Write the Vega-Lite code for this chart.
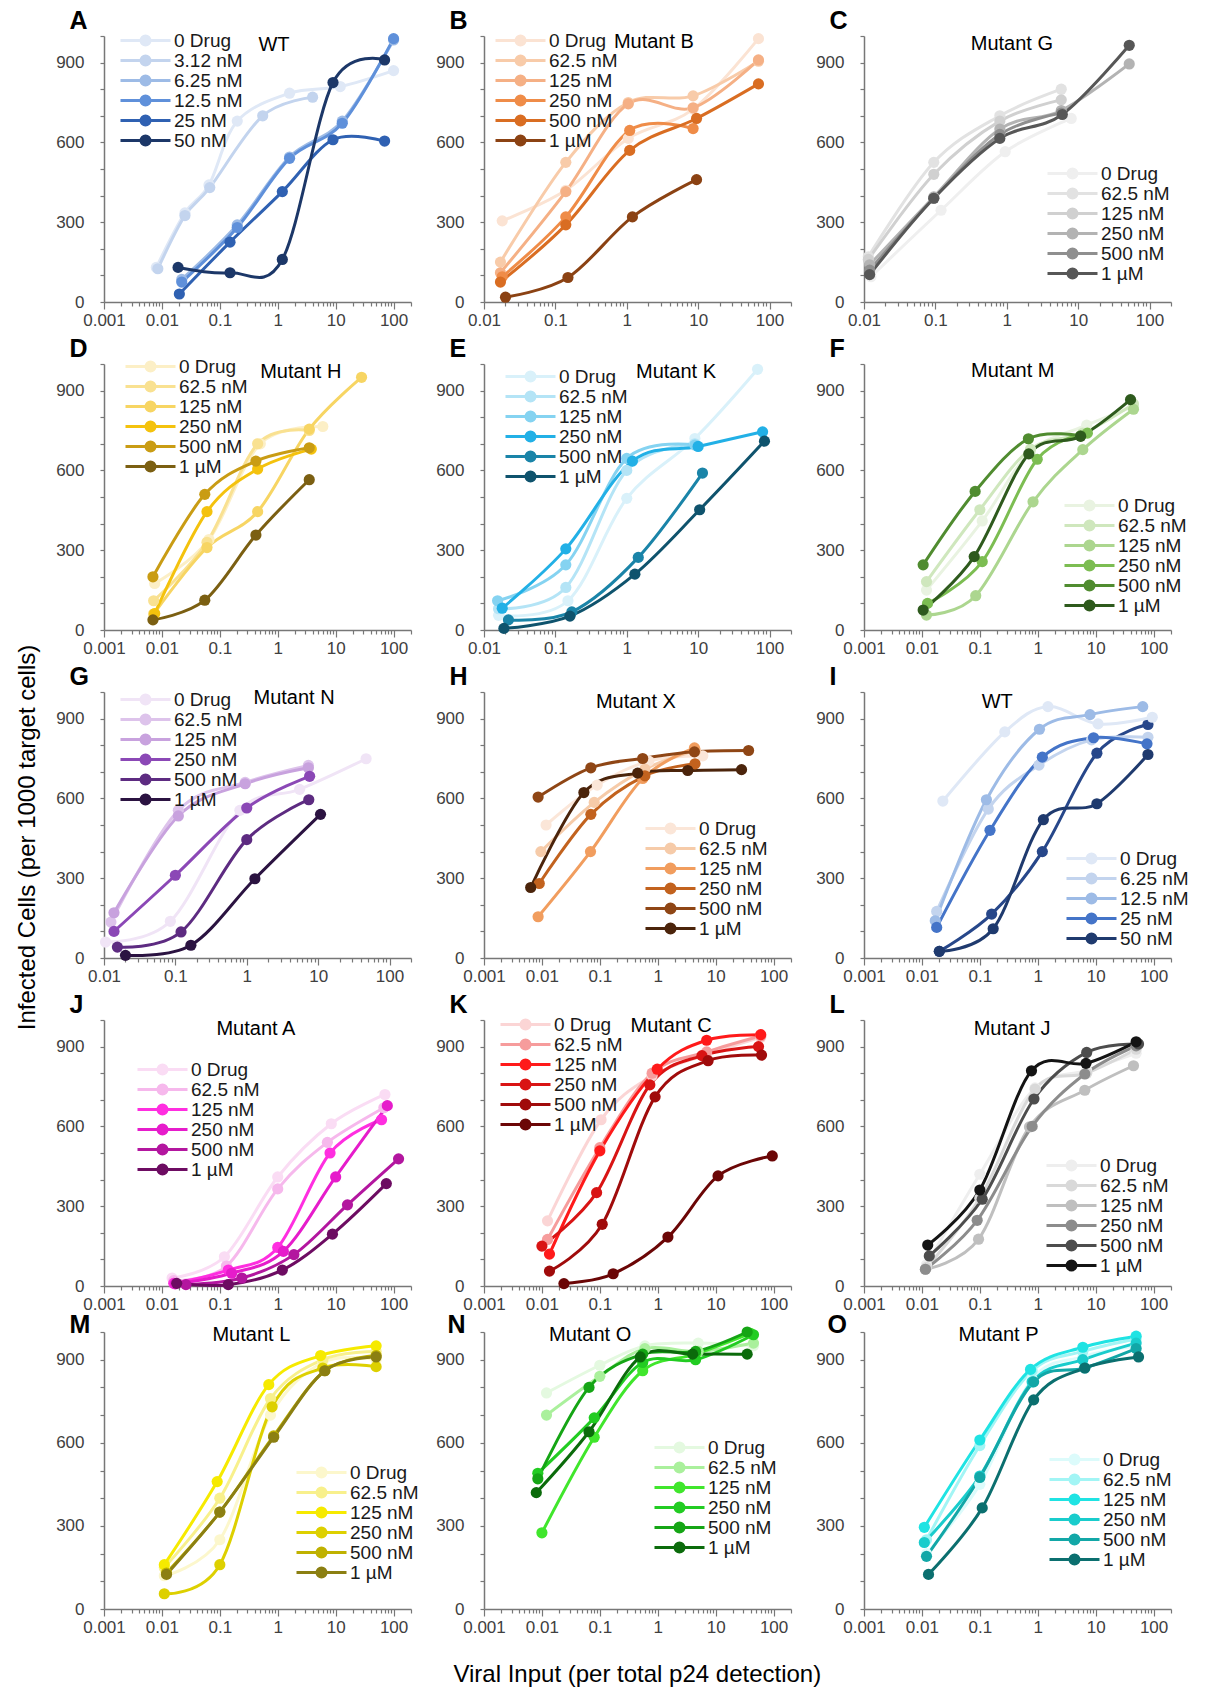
{
"$schema": "https://vega.github.io/schema/vega-lite/v6.json",
"background": "white",
"padding": {"left": 15, "top": 8, "right": 5, "bottom": 5},
"config": {
  "view": {"stroke": null},
  "font": "Liberation Sans",
  "axis": {"grid": false, "domainColor": "#777777", "tickColor": "#777777", "domainWidth": 1.5, "tickWidth": 1.2, "labelColor": "#404040", "labelFont": "Liberation Sans", "labelFontSize": 17, "titleFont": "Liberation Sans", "labelOverlap": false, "labelSeparation": 0},
  "axisX": {"labelPadding": 3},
  "axisY": {"tickSize": 4, "labelPadding": 16, "titleAngle": 0, "titleX": -35, "titleY": -16, "titleAlign": "left", "titleBaseline": "middle", "titleFontSize": 25, "titleFontWeight": "bold", "titleColor": "#000000"},
  "legend": {"labelFontSize": 19, "labelColor": "#1a1a1a", "labelFont": "Liberation Sans", "symbolSize": 100, "symbolStrokeWidth": 3, "labelOffset": 19, "rowPadding": -8, "padding": 0, "symbolOffset": 0},
  "title": {"font": "Liberation Sans", "fontWeight": "normal", "fontSize": 24, "color": "#000000"}
},
"datasets": {
"A": [
{"s":"0 Drug","x":0.008,"y":130},{"s":"0 Drug","x":0.025,"y":335},{"s":"0 Drug","x":0.065,"y":440},{"s":"0 Drug","x":0.2,"y":680},{"s":"0 Drug","x":1.6,"y":785},{"s":"0 Drug","x":12,"y":810},{"s":"0 Drug","x":100,"y":870},
{"s":"3.12 nM","x":0.0085,"y":125},{"s":"3.12 nM","x":0.025,"y":325},{"s":"3.12 nM","x":0.067,"y":430},{"s":"3.12 nM","x":0.55,"y":700},{"s":"3.12 nM","x":4,"y":770},
{"s":"6.25 nM","x":0.022,"y":85},{"s":"6.25 nM","x":0.2,"y":290},{"s":"6.25 nM","x":1.6,"y":545},{"s":"6.25 nM","x":13,"y":680},{"s":"6.25 nM","x":100,"y":985},
{"s":"12.5 nM","x":0.022,"y":75},{"s":"12.5 nM","x":0.2,"y":280},{"s":"12.5 nM","x":1.6,"y":540},{"s":"12.5 nM","x":13,"y":672},{"s":"12.5 nM","x":100,"y":990},
{"s":"25 nM","x":0.02,"y":30},{"s":"25 nM","x":0.15,"y":225},{"s":"25 nM","x":1.2,"y":415},{"s":"25 nM","x":9,"y":610},{"s":"25 nM","x":70,"y":605},
{"s":"50 nM","x":0.019,"y":130},{"s":"50 nM","x":0.15,"y":110},{"s":"50 nM","x":1.2,"y":160},{"s":"50 nM","x":9,"y":825},{"s":"50 nM","x":70,"y":910}
],
"B": [
{"s":"0 Drug","x":0.018,"y":305},{"s":"0 Drug","x":0.14,"y":420},{"s":"0 Drug","x":1.05,"y":615},{"s":"0 Drug","x":8.5,"y":725},{"s":"0 Drug","x":70,"y":990},
{"s":"62.5 nM","x":0.017,"y":150},{"s":"62.5 nM","x":0.14,"y":525},{"s":"62.5 nM","x":1.05,"y":750},{"s":"62.5 nM","x":8.5,"y":775},{"s":"62.5 nM","x":70,"y":905},
{"s":"125 nM","x":0.017,"y":110},{"s":"125 nM","x":0.14,"y":415},{"s":"125 nM","x":1.05,"y":745},{"s":"125 nM","x":8.5,"y":730},{"s":"125 nM","x":70,"y":910},
{"s":"250 nM","x":0.018,"y":95},{"s":"250 nM","x":0.14,"y":320},{"s":"250 nM","x":1.1,"y":645},{"s":"250 nM","x":8.5,"y":652},
{"s":"500 nM","x":0.017,"y":75},{"s":"500 nM","x":0.14,"y":290},{"s":"500 nM","x":1.1,"y":570},{"s":"500 nM","x":9.5,"y":690},{"s":"500 nM","x":70,"y":820},
{"s":"1 µM","x":0.02,"y":18},{"s":"1 µM","x":0.15,"y":92},{"s":"1 µM","x":1.2,"y":320},{"s":"1 µM","x":9.5,"y":460}
],
"C": [
{"s":"0 Drug","x":0.0125,"y":95},{"s":"0 Drug","x":0.12,"y":345},{"s":"0 Drug","x":0.95,"y":565},{"s":"0 Drug","x":8,"y":690},
{"s":"62.5 nM","x":0.0115,"y":170},{"s":"62.5 nM","x":0.095,"y":525},{"s":"62.5 nM","x":0.8,"y":700},{"s":"62.5 nM","x":5.8,"y":800},
{"s":"125 nM","x":0.0115,"y":160},{"s":"125 nM","x":0.095,"y":480},{"s":"125 nM","x":0.8,"y":680},{"s":"125 nM","x":5.8,"y":760},
{"s":"250 nM","x":0.012,"y":140},{"s":"250 nM","x":0.095,"y":395},{"s":"250 nM","x":0.8,"y":650},{"s":"250 nM","x":5.8,"y":720},{"s":"250 nM","x":52,"y":895},
{"s":"500 nM","x":0.012,"y":120},{"s":"500 nM","x":0.095,"y":390},{"s":"500 nM","x":0.8,"y":630},{"s":"500 nM","x":5.8,"y":710},
{"s":"1 µM","x":0.012,"y":103},{"s":"1 µM","x":0.095,"y":390},{"s":"1 µM","x":0.8,"y":615},{"s":"1 µM","x":6,"y":705},{"s":"1 µM","x":52,"y":965}
],
"D": [
{"s":"0 Drug","x":0.0075,"y":175},{"s":"0 Drug","x":0.065,"y":340},{"s":"0 Drug","x":0.5,"y":700},{"s":"0 Drug","x":6,"y":765},
{"s":"62.5 nM","x":0.0072,"y":110},{"s":"62.5 nM","x":0.06,"y":330},{"s":"62.5 nM","x":0.45,"y":700},{"s":"62.5 nM","x":3.5,"y":750},
{"s":"125 nM","x":0.0072,"y":60},{"s":"125 nM","x":0.06,"y":310},{"s":"125 nM","x":0.45,"y":445},{"s":"125 nM","x":3.5,"y":755},{"s":"125 nM","x":28,"y":950},
{"s":"250 nM","x":0.0075,"y":62},{"s":"250 nM","x":0.06,"y":445},{"s":"250 nM","x":0.45,"y":605},{"s":"250 nM","x":3.8,"y":680},
{"s":"500 nM","x":0.007,"y":200},{"s":"500 nM","x":0.055,"y":510},{"s":"500 nM","x":0.42,"y":635},{"s":"500 nM","x":3.5,"y":685},
{"s":"1 µM","x":0.007,"y":38},{"s":"1 µM","x":0.055,"y":112},{"s":"1 µM","x":0.42,"y":357},{"s":"1 µM","x":3.5,"y":565}
],
"E": [
{"s":"0 Drug","x":0.016,"y":55},{"s":"0 Drug","x":0.15,"y":110},{"s":"0 Drug","x":1.0,"y":495},{"s":"0 Drug","x":9,"y":720},{"s":"0 Drug","x":68,"y":980},
{"s":"62.5 nM","x":0.016,"y":80},{"s":"62.5 nM","x":0.14,"y":160},{"s":"62.5 nM","x":1.0,"y":600},{"s":"62.5 nM","x":9,"y":700},
{"s":"125 nM","x":0.0155,"y":110},{"s":"125 nM","x":0.14,"y":245},{"s":"125 nM","x":1.0,"y":645},{"s":"125 nM","x":9,"y":695},
{"s":"250 nM","x":0.018,"y":82},{"s":"250 nM","x":0.14,"y":305},{"s":"250 nM","x":1.2,"y":635},{"s":"250 nM","x":10,"y":690},{"s":"250 nM","x":80,"y":745},
{"s":"500 nM","x":0.022,"y":38},{"s":"500 nM","x":0.17,"y":68},{"s":"500 nM","x":1.45,"y":273},{"s":"500 nM","x":11.5,"y":590},
{"s":"1 µM","x":0.019,"y":6},{"s":"1 µM","x":0.16,"y":52},{"s":"1 µM","x":1.3,"y":210},{"s":"1 µM","x":10.5,"y":452},{"s":"1 µM","x":85,"y":710}
],
"F": [
{"s":"0 Drug","x":0.012,"y":150},{"s":"0 Drug","x":0.11,"y":410},{"s":"0 Drug","x":0.75,"y":670},{"s":"0 Drug","x":7,"y":770},{"s":"0 Drug","x":45,"y":840},
{"s":"62.5 nM","x":0.012,"y":182},{"s":"62.5 nM","x":0.1,"y":452},{"s":"62.5 nM","x":0.75,"y":680},{"s":"62.5 nM","x":6,"y":740},{"s":"62.5 nM","x":45,"y":850},
{"s":"125 nM","x":0.012,"y":56},{"s":"125 nM","x":0.085,"y":129},{"s":"125 nM","x":0.83,"y":482},{"s":"125 nM","x":6,"y":678},{"s":"125 nM","x":45,"y":830},
{"s":"250 nM","x":0.0125,"y":100},{"s":"250 nM","x":0.11,"y":257},{"s":"250 nM","x":0.98,"y":642},{"s":"250 nM","x":7.2,"y":740},
{"s":"500 nM","x":0.0105,"y":245},{"s":"500 nM","x":0.083,"y":521},{"s":"500 nM","x":0.69,"y":719},{"s":"500 nM","x":5.5,"y":730},
{"s":"1 µM","x":0.0105,"y":75},{"s":"1 µM","x":0.08,"y":276},{"s":"1 µM","x":0.7,"y":662},{"s":"1 µM","x":5.5,"y":728},{"s":"1 µM","x":40,"y":866}
],
"G": [
{"s":"0 Drug","x":0.0105,"y":60},{"s":"0 Drug","x":0.085,"y":138},{"s":"0 Drug","x":0.8,"y":555},{"s":"0 Drug","x":5.5,"y":634},{"s":"0 Drug","x":47,"y":749},
{"s":"62.5 nM","x":0.0125,"y":135},{"s":"62.5 nM","x":0.11,"y":555},{"s":"62.5 nM","x":0.95,"y":660},{"s":"62.5 nM","x":7.3,"y":724},
{"s":"125 nM","x":0.0138,"y":170},{"s":"125 nM","x":0.11,"y":534},{"s":"125 nM","x":0.95,"y":655},{"s":"125 nM","x":7.3,"y":715},
{"s":"250 nM","x":0.0138,"y":100},{"s":"250 nM","x":0.1,"y":311},{"s":"250 nM","x":1.0,"y":564},{"s":"250 nM","x":7.6,"y":683},
{"s":"500 nM","x":0.0154,"y":41},{"s":"500 nM","x":0.12,"y":98},{"s":"500 nM","x":1.0,"y":445},{"s":"500 nM","x":7.4,"y":595},
{"s":"1 µM","x":0.02,"y":10},{"s":"1 µM","x":0.165,"y":48},{"s":"1 µM","x":1.3,"y":298},{"s":"1 µM","x":10.8,"y":540}
],
"H": [
{"s":"0 Drug","x":0.0118,"y":500},{"s":"0 Drug","x":0.09,"y":650},{"s":"0 Drug","x":0.7,"y":740},{"s":"0 Drug","x":6,"y":760},
{"s":"62.5 nM","x":0.0096,"y":400},{"s":"62.5 nM","x":0.08,"y":585},{"s":"62.5 nM","x":0.6,"y":710},{"s":"62.5 nM","x":4.5,"y":780},
{"s":"125 nM","x":0.0086,"y":155},{"s":"125 nM","x":0.069,"y":400},{"s":"125 nM","x":0.55,"y":675},{"s":"125 nM","x":4.3,"y":790},
{"s":"250 nM","x":0.009,"y":280},{"s":"250 nM","x":0.07,"y":540},{"s":"250 nM","x":0.6,"y":685},{"s":"250 nM","x":4.4,"y":730},
{"s":"500 nM","x":0.0086,"y":605},{"s":"500 nM","x":0.07,"y":715},{"s":"500 nM","x":0.55,"y":750},{"s":"500 nM","x":4.3,"y":775},{"s":"500 nM","x":37,"y":780},
{"s":"1 µM","x":0.0064,"y":265},{"s":"1 µM","x":0.053,"y":622},{"s":"1 µM","x":0.45,"y":695},{"s":"1 µM","x":3.3,"y":705},{"s":"1 µM","x":28,"y":708}
],
"I": [
{"s":"0 Drug","x":0.023,"y":590},{"s":"0 Drug","x":0.27,"y":850},{"s":"0 Drug","x":1.5,"y":945},{"s":"0 Drug","x":11,"y":880},{"s":"0 Drug","x":95,"y":905},
{"s":"6.25 nM","x":0.018,"y":175},{"s":"6.25 nM","x":0.14,"y":560},{"s":"6.25 nM","x":1.05,"y":725},{"s":"6.25 nM","x":8.5,"y":820},{"s":"6.25 nM","x":80,"y":830},
{"s":"12.5 nM","x":0.017,"y":140},{"s":"12.5 nM","x":0.13,"y":595},{"s":"12.5 nM","x":1.07,"y":860},{"s":"12.5 nM","x":8,"y":915},{"s":"12.5 nM","x":65,"y":945},
{"s":"25 nM","x":0.018,"y":115},{"s":"25 nM","x":0.15,"y":480},{"s":"25 nM","x":1.2,"y":755},{"s":"25 nM","x":9.2,"y":828},{"s":"25 nM","x":77,"y":805},
{"s":"50 nM","x":0.02,"y":25},{"s":"50 nM","x":0.17,"y":110},{"s":"50 nM","x":1.25,"y":520},{"s":"50 nM","x":10.5,"y":580},{"s":"50 nM","x":80,"y":765}
],
"I2": [
{"x":0.02,"y":25},{"x":0.16,"y":165},{"x":1.2,"y":400},{"x":10.5,"y":770},{"x":80,"y":878}
],
"J": [
{"s":"0 Drug","x":0.015,"y":30},{"s":"0 Drug","x":0.12,"y":110},{"s":"0 Drug","x":1.0,"y":410},{"s":"0 Drug","x":8.4,"y":610},{"s":"0 Drug","x":71,"y":720},
{"s":"62.5 nM","x":0.016,"y":20},{"s":"62.5 nM","x":0.13,"y":75},{"s":"62.5 nM","x":1.0,"y":365},{"s":"62.5 nM","x":7.2,"y":540},{"s":"62.5 nM","x":68,"y":670},
{"s":"125 nM","x":0.016,"y":10},{"s":"125 nM","x":0.14,"y":60},{"s":"125 nM","x":1.0,"y":145},{"s":"125 nM","x":8,"y":500},{"s":"125 nM","x":62,"y":625},
{"s":"250 nM","x":0.017,"y":8},{"s":"250 nM","x":0.16,"y":48},{"s":"250 nM","x":1.25,"y":130},{"s":"250 nM","x":10,"y":410},{"s":"250 nM","x":78,"y":678},
{"s":"500 nM","x":0.026,"y":5},{"s":"500 nM","x":0.24,"y":30},{"s":"500 nM","x":1.9,"y":118},{"s":"500 nM","x":16,"y":305},{"s":"500 nM","x":122,"y":478},
{"s":"1 µM","x":0.018,"y":10},{"s":"1 µM","x":0.14,"y":5},{"s":"1 µM","x":1.2,"y":60},{"s":"1 µM","x":8.8,"y":195},{"s":"1 µM","x":75,"y":385}
],
"K": [
{"s":"0 Drug","x":0.0125,"y":245},{"s":"0 Drug","x":0.105,"y":625},{"s":"0 Drug","x":0.8,"y":790},{"s":"0 Drug","x":7,"y":870},{"s":"0 Drug","x":60,"y":935},
{"s":"62.5 nM","x":0.0125,"y":175},{"s":"62.5 nM","x":0.1,"y":520},{"s":"62.5 nM","x":0.8,"y":800},{"s":"62.5 nM","x":7,"y":880},{"s":"62.5 nM","x":60,"y":940},
{"s":"125 nM","x":0.0135,"y":120},{"s":"125 nM","x":0.1,"y":508},{"s":"125 nM","x":0.98,"y":815},{"s":"125 nM","x":7,"y":924},{"s":"125 nM","x":60,"y":945},
{"s":"250 nM","x":0.01,"y":150},{"s":"250 nM","x":0.088,"y":351},{"s":"250 nM","x":0.73,"y":756},{"s":"250 nM","x":5.8,"y":866},{"s":"250 nM","x":55,"y":900},
{"s":"500 nM","x":0.0135,"y":56},{"s":"500 nM","x":0.11,"y":232},{"s":"500 nM","x":0.9,"y":711},{"s":"500 nM","x":7.4,"y":847},{"s":"500 nM","x":62,"y":868},
{"s":"1 µM","x":0.024,"y":9},{"s":"1 µM","x":0.17,"y":46},{"s":"1 µM","x":1.5,"y":184},{"s":"1 µM","x":11,"y":414},{"s":"1 µM","x":95,"y":489}
],
"L": [
{"s":"0 Drug","x":0.012,"y":80},{"s":"0 Drug","x":0.1,"y":420},{"s":"0 Drug","x":0.9,"y":745},{"s":"0 Drug","x":7,"y":810},{"s":"0 Drug","x":50,"y":875},
{"s":"62.5 nM","x":0.012,"y":70},{"s":"62.5 nM","x":0.1,"y":330},{"s":"62.5 nM","x":0.9,"y":740},{"s":"62.5 nM","x":7,"y":800},{"s":"62.5 nM","x":50,"y":890},
{"s":"125 nM","x":0.0115,"y":63},{"s":"125 nM","x":0.095,"y":176},{"s":"125 nM","x":0.72,"y":598},{"s":"125 nM","x":6.5,"y":736},{"s":"125 nM","x":45,"y":828},
{"s":"250 nM","x":0.0115,"y":63},{"s":"250 nM","x":0.09,"y":247},{"s":"250 nM","x":0.8,"y":600},{"s":"250 nM","x":6.5,"y":797},{"s":"250 nM","x":50,"y":903},
{"s":"500 nM","x":0.0134,"y":113},{"s":"500 nM","x":0.11,"y":326},{"s":"500 nM","x":0.86,"y":703},{"s":"500 nM","x":7,"y":878},{"s":"500 nM","x":55,"y":910},
{"s":"1 µM","x":0.0126,"y":154},{"s":"1 µM","x":0.1,"y":361},{"s":"1 µM","x":0.78,"y":809},{"s":"1 µM","x":6.8,"y":837},{"s":"1 µM","x":50,"y":918}
],
"M": [
{"s":"0 Drug","x":0.011,"y":120},{"s":"0 Drug","x":0.1,"y":250},{"s":"0 Drug","x":0.75,"y":700},{"s":"0 Drug","x":6,"y":890},{"s":"0 Drug","x":50,"y":900},
{"s":"62.5 nM","x":0.011,"y":150},{"s":"62.5 nM","x":0.1,"y":400},{"s":"62.5 nM","x":0.75,"y":760},{"s":"62.5 nM","x":6,"y":900},{"s":"62.5 nM","x":50,"y":930},
{"s":"125 nM","x":0.011,"y":160},{"s":"125 nM","x":0.09,"y":460},{"s":"125 nM","x":0.7,"y":810},{"s":"125 nM","x":5.5,"y":915},{"s":"125 nM","x":50,"y":950},
{"s":"250 nM","x":0.011,"y":55},{"s":"250 nM","x":0.1,"y":160},{"s":"250 nM","x":0.8,"y":730},{"s":"250 nM","x":6,"y":870},{"s":"250 nM","x":50,"y":875},
{"s":"500 nM","x":0.012,"y":130},{"s":"500 nM","x":0.1,"y":350},{"s":"500 nM","x":0.85,"y":625},{"s":"500 nM","x":6.5,"y":860},{"s":"500 nM","x":50,"y":915},
{"s":"1 µM","x":0.012,"y":125},{"s":"1 µM","x":0.1,"y":350},{"s":"1 µM","x":0.85,"y":620},{"s":"1 µM","x":6.5,"y":860},{"s":"1 µM","x":50,"y":910}
],
"N": [
{"s":"0 Drug","x":0.012,"y":780},{"s":"0 Drug","x":0.1,"y":880},{"s":"0 Drug","x":0.6,"y":950},{"s":"0 Drug","x":5,"y":960},{"s":"0 Drug","x":45,"y":950},
{"s":"62.5 nM","x":0.012,"y":700},{"s":"62.5 nM","x":0.1,"y":840},{"s":"62.5 nM","x":0.6,"y":940},{"s":"62.5 nM","x":5,"y":930},{"s":"62.5 nM","x":45,"y":960},
{"s":"125 nM","x":0.01,"y":275},{"s":"125 nM","x":0.08,"y":620},{"s":"125 nM","x":0.55,"y":860},{"s":"125 nM","x":4.5,"y":920},{"s":"125 nM","x":40,"y":995},
{"s":"250 nM","x":0.0085,"y":490},{"s":"250 nM","x":0.08,"y":690},{"s":"250 nM","x":0.55,"y":890},{"s":"250 nM","x":4.5,"y":900},{"s":"250 nM","x":45,"y":990},
{"s":"500 nM","x":0.0085,"y":470},{"s":"500 nM","x":0.065,"y":800},{"s":"500 nM","x":0.55,"y":920},{"s":"500 nM","x":4.5,"y":930},{"s":"500 nM","x":35,"y":1000},
{"s":"1 µM","x":0.008,"y":420},{"s":"1 µM","x":0.065,"y":640},{"s":"1 µM","x":0.5,"y":910},{"s":"1 µM","x":4,"y":920},{"s":"1 µM","x":35,"y":920}
],
"O": [
{"s":"0 Drug","x":0.012,"y":200},{"s":"0 Drug","x":0.1,"y":450},{"s":"0 Drug","x":0.8,"y":830},{"s":"0 Drug","x":6,"y":910},{"s":"0 Drug","x":50,"y":950},
{"s":"62.5 nM","x":0.012,"y":250},{"s":"62.5 nM","x":0.1,"y":590},{"s":"62.5 nM","x":0.8,"y":860},{"s":"62.5 nM","x":6,"y":930},{"s":"62.5 nM","x":50,"y":975},
{"s":"125 nM","x":0.011,"y":295},{"s":"125 nM","x":0.1,"y":610},{"s":"125 nM","x":0.75,"y":865},{"s":"125 nM","x":6,"y":945},{"s":"125 nM","x":50,"y":985},
{"s":"250 nM","x":0.011,"y":240},{"s":"250 nM","x":0.1,"y":480},{"s":"250 nM","x":0.8,"y":820},{"s":"250 nM","x":6,"y":900},{"s":"250 nM","x":50,"y":960},
{"s":"500 nM","x":0.012,"y":190},{"s":"500 nM","x":0.1,"y":475},{"s":"500 nM","x":0.85,"y":820},{"s":"500 nM","x":6.5,"y":870},{"s":"500 nM","x":50,"y":940},
{"s":"1 µM","x":0.013,"y":125},{"s":"1 µM","x":0.11,"y":365},{"s":"1 µM","x":0.85,"y":755},{"s":"1 µM","x":6.5,"y":870},{"s":"1 µM","x":55,"y":910}
]
},
"title": {"text": "Viral Input (per total p24 detection)", "orient": "bottom", "anchor": "middle", "offset": 28, "dx": 35},
"vconcat": [
{
"title": {"text": "Infected Cells (per 1000 target cells)", "orient": "left", "anchor": "middle", "offset": 16, "dx": -16},
"spacing": 0,
"resolve": {"scale": {"x": "independent", "y": "independent", "color": "independent"}},
"vconcat": [
{
"columns": 3,
"align": "each",
"spacing": {"row": 8, "column": 23},
"resolve": {"scale": {"x": "independent", "y": "independent", "color": "independent"}},
"concat": [
{"width": 307, "height": 266, "data": {"name": "A"}, "layer": [
 {"mark": {"type": "line", "interpolate": "cardinal", "strokeWidth": 3},
  "encoding": {
   "x": {"field": "x", "type": "quantitative", "scale": {"type": "log", "domain": [0.001, 200], "nice": false}, "axis": {"title": null, "tickCount": 100, "values": [0.001,0.002,0.003,0.004,0.005,0.006,0.007,0.008,0.009,0.01,0.02,0.03,0.04,0.05,0.06,0.07,0.08,0.09,0.1,0.2,0.3,0.4,0.5,0.6,0.7,0.8,0.9,1,2,3,4,5,6,7,8,9,10,20,30,40,50,60,70,80,90,100,200], "format": "~g", "labelOverlap": false, "labelFlush": false, "labelExpr": "abs(log(datum.value)/LN10 - round(log(datum.value)/LN10)) < 0.01 ? datum.label : ''", "tickSize": {"condition": {"test": "abs(log(datum.value)/LN10 - round(log(datum.value)/LN10)) < 0.01", "value": 7}, "value": 4}}},
   "y": {"field": "y", "type": "quantitative", "scale": {"domain": [0, 1000], "nice": false}, "axis": {"title": "A", "tickCount": 100, "values": [0,100,200,300,400,500,600,700,800,900,1000], "labelExpr": "(datum.value == 0 || datum.value == 300 || datum.value == 600 || datum.value == 900) ? datum.label : ''", "labelOverlap": false}},
   "color": {"field": "s", "type": "nominal", "scale": {"domain": ["0 Drug","3.12 nM","6.25 nM","12.5 nM","25 nM","50 nM"], "range": ["#dfe8f6","#c3d4ee","#9dbbe6","#5f90da","#2f61b2","#1c3768"]}, "legend": {"orient": "none", "legendX": 32, "legendY": -5, "title": null, "symbolType": "M-5,0L5,0M-0.9,0A0.9,0.9,0,1,0,0.9,0A0.9,0.9,0,1,0,-0.9,0M-0.3,0A0.3,0.3,0,1,0,0.3,0A0.3,0.3,0,1,0,-0.3,0"}}
  }},
 {"mark": {"type": "point", "filled": true, "size": 125, "opacity": 1},
  "encoding": {"x": {"field": "x", "type": "quantitative"}, "y": {"field": "y", "type": "quantitative"}, "color": {"field": "s", "type": "nominal", "scale": {"domain": ["0 Drug","3.12 nM","6.25 nM","12.5 nM","25 nM","50 nM"], "range": ["#dfe8f6","#c3d4ee","#9dbbe6","#5f90da","#2f61b2","#1c3768"]}, "legend": null}}},
 {"data": {"values": [{"t": "WT"}]}, "mark": {"type": "text", "fontSize": 20, "color": "#000000"}, "encoding": {"x": {"datum": 0.86}, "y": {"datum": 965}, "text": {"field": "t"}}}
]},
{"width": 307, "height": 266, "data": {"name": "B"}, "layer": [
 {"mark": {"type": "line", "interpolate": "cardinal", "strokeWidth": 3},
  "encoding": {
   "x": {"field": "x", "type": "quantitative", "scale": {"type": "log", "domain": [0.01, 200], "nice": false}, "axis": {"title": null, "tickCount": 100, "values": [0.01,0.02,0.03,0.04,0.05,0.06,0.07,0.08,0.09,0.1,0.2,0.3,0.4,0.5,0.6,0.7,0.8,0.9,1,2,3,4,5,6,7,8,9,10,20,30,40,50,60,70,80,90,100,200], "format": "~g", "labelOverlap": false, "labelFlush": false, "labelExpr": "abs(log(datum.value)/LN10 - round(log(datum.value)/LN10)) < 0.01 ? datum.label : ''", "tickSize": {"condition": {"test": "abs(log(datum.value)/LN10 - round(log(datum.value)/LN10)) < 0.01", "value": 7}, "value": 4}}},
   "y": {"field": "y", "type": "quantitative", "scale": {"domain": [0, 1000], "nice": false}, "axis": {"title": "B", "tickCount": 100, "values": [0,100,200,300,400,500,600,700,800,900,1000], "labelExpr": "(datum.value == 0 || datum.value == 300 || datum.value == 600 || datum.value == 900) ? datum.label : ''", "labelOverlap": false}},
   "color": {"field": "s", "type": "nominal", "scale": {"domain": ["0 Drug","62.5 nM","125 nM","250 nM","500 nM","1 µM"], "range": ["#fbe3d3","#f8cba9","#f5b085","#ef8c48","#d96d22","#8b4213"]}, "legend": {"orient": "none", "legendX": 27, "legendY": -5, "title": null, "symbolType": "M-5,0L5,0M-0.9,0A0.9,0.9,0,1,0,0.9,0A0.9,0.9,0,1,0,-0.9,0M-0.3,0A0.3,0.3,0,1,0,0.3,0A0.3,0.3,0,1,0,-0.3,0"}}
  }},
 {"mark": {"type": "point", "filled": true, "size": 125, "opacity": 1},
  "encoding": {"x": {"field": "x", "type": "quantitative"}, "y": {"field": "y", "type": "quantitative"}, "color": {"field": "s", "type": "nominal", "scale": {"domain": ["0 Drug","62.5 nM","125 nM","250 nM","500 nM","1 µM"], "range": ["#fbe3d3","#f8cba9","#f5b085","#ef8c48","#d96d22","#8b4213"]}, "legend": null}}},
 {"data": {"values": [{"t": "Mutant B"}]}, "mark": {"type": "text", "fontSize": 20, "color": "#000000"}, "encoding": {"x": {"datum": 2.4}, "y": {"datum": 977}, "text": {"field": "t"}}}
]},
{"width": 307, "height": 266, "data": {"name": "C"}, "layer": [
 {"mark": {"type": "line", "interpolate": "cardinal", "strokeWidth": 3},
  "encoding": {
   "x": {"field": "x", "type": "quantitative", "scale": {"type": "log", "domain": [0.01, 200], "nice": false}, "axis": {"title": null, "tickCount": 100, "values": [0.01,0.02,0.03,0.04,0.05,0.06,0.07,0.08,0.09,0.1,0.2,0.3,0.4,0.5,0.6,0.7,0.8,0.9,1,2,3,4,5,6,7,8,9,10,20,30,40,50,60,70,80,90,100,200], "format": "~g", "labelOverlap": false, "labelFlush": false, "labelExpr": "abs(log(datum.value)/LN10 - round(log(datum.value)/LN10)) < 0.01 ? datum.label : ''", "tickSize": {"condition": {"test": "abs(log(datum.value)/LN10 - round(log(datum.value)/LN10)) < 0.01", "value": 7}, "value": 4}}},
   "y": {"field": "y", "type": "quantitative", "scale": {"domain": [0, 1000], "nice": false}, "axis": {"title": "C", "tickCount": 100, "values": [0,100,200,300,400,500,600,700,800,900,1000], "labelExpr": "(datum.value == 0 || datum.value == 300 || datum.value == 600 || datum.value == 900) ? datum.label : ''", "labelOverlap": false}},
   "color": {"field": "s", "type": "nominal", "scale": {"domain": ["0 Drug","62.5 nM","125 nM","250 nM","500 nM","1 µM"], "range": ["#efefef","#e2e2e2","#d0d0d0","#b3b3b3","#8f8f8f","#575757"]}, "legend": {"orient": "none", "legendX": 199, "legendY": 128, "title": null, "symbolType": "M-5,0L5,0M-0.9,0A0.9,0.9,0,1,0,0.9,0A0.9,0.9,0,1,0,-0.9,0M-0.3,0A0.3,0.3,0,1,0,0.3,0A0.3,0.3,0,1,0,-0.3,0"}}
  }},
 {"mark": {"type": "point", "filled": true, "size": 125, "opacity": 1},
  "encoding": {"x": {"field": "x", "type": "quantitative"}, "y": {"field": "y", "type": "quantitative"}, "color": {"field": "s", "type": "nominal", "scale": {"domain": ["0 Drug","62.5 nM","125 nM","250 nM","500 nM","1 µM"], "range": ["#efefef","#e2e2e2","#d0d0d0","#b3b3b3","#8f8f8f","#575757"]}, "legend": null}}},
 {"data": {"values": [{"t": "Mutant G"}]}, "mark": {"type": "text", "fontSize": 20, "color": "#000000"}, "encoding": {"x": {"datum": 1.18}, "y": {"datum": 970}, "text": {"field": "t"}}}
]},
{"width": 307, "height": 266, "data": {"name": "D"}, "layer": [
 {"mark": {"type": "line", "interpolate": "cardinal", "strokeWidth": 3},
  "encoding": {
   "x": {"field": "x", "type": "quantitative", "scale": {"type": "log", "domain": [0.001, 200], "nice": false}, "axis": {"title": null, "tickCount": 100, "values": [0.001,0.002,0.003,0.004,0.005,0.006,0.007,0.008,0.009,0.01,0.02,0.03,0.04,0.05,0.06,0.07,0.08,0.09,0.1,0.2,0.3,0.4,0.5,0.6,0.7,0.8,0.9,1,2,3,4,5,6,7,8,9,10,20,30,40,50,60,70,80,90,100,200], "format": "~g", "labelOverlap": false, "labelFlush": false, "labelExpr": "abs(log(datum.value)/LN10 - round(log(datum.value)/LN10)) < 0.01 ? datum.label : ''", "tickSize": {"condition": {"test": "abs(log(datum.value)/LN10 - round(log(datum.value)/LN10)) < 0.01", "value": 7}, "value": 4}}},
   "y": {"field": "y", "type": "quantitative", "scale": {"domain": [0, 1000], "nice": false}, "axis": {"title": "D", "tickCount": 100, "values": [0,100,200,300,400,500,600,700,800,900,1000], "labelExpr": "(datum.value == 0 || datum.value == 300 || datum.value == 600 || datum.value == 900) ? datum.label : ''", "labelOverlap": false}},
   "color": {"field": "s", "type": "nominal", "scale": {"domain": ["0 Drug","62.5 nM","125 nM","250 nM","500 nM","1 µM"], "range": ["#fcefc6","#f9e191","#f7d563","#f4c20d","#c99c14","#7b5f12"]}, "legend": {"orient": "none", "legendX": 37, "legendY": -7, "title": null, "symbolType": "M-5,0L5,0M-0.9,0A0.9,0.9,0,1,0,0.9,0A0.9,0.9,0,1,0,-0.9,0M-0.3,0A0.3,0.3,0,1,0,0.3,0A0.3,0.3,0,1,0,-0.3,0"}}
  }},
 {"mark": {"type": "point", "filled": true, "size": 125, "opacity": 1},
  "encoding": {"x": {"field": "x", "type": "quantitative"}, "y": {"field": "y", "type": "quantitative"}, "color": {"field": "s", "type": "nominal", "scale": {"domain": ["0 Drug","62.5 nM","125 nM","250 nM","500 nM","1 µM"], "range": ["#fcefc6","#f9e191","#f7d563","#f4c20d","#c99c14","#7b5f12"]}, "legend": null}}},
 {"data": {"values": [{"t": "Mutant H"}]}, "mark": {"type": "text", "fontSize": 20, "color": "#000000"}, "encoding": {"x": {"datum": 2.5}, "y": {"datum": 970}, "text": {"field": "t"}}}
]},
{"width": 307, "height": 266, "data": {"name": "E"}, "layer": [
 {"mark": {"type": "line", "interpolate": "cardinal", "strokeWidth": 3},
  "encoding": {
   "x": {"field": "x", "type": "quantitative", "scale": {"type": "log", "domain": [0.01, 200], "nice": false}, "axis": {"title": null, "tickCount": 100, "values": [0.01,0.02,0.03,0.04,0.05,0.06,0.07,0.08,0.09,0.1,0.2,0.3,0.4,0.5,0.6,0.7,0.8,0.9,1,2,3,4,5,6,7,8,9,10,20,30,40,50,60,70,80,90,100,200], "format": "~g", "labelOverlap": false, "labelFlush": false, "labelExpr": "abs(log(datum.value)/LN10 - round(log(datum.value)/LN10)) < 0.01 ? datum.label : ''", "tickSize": {"condition": {"test": "abs(log(datum.value)/LN10 - round(log(datum.value)/LN10)) < 0.01", "value": 7}, "value": 4}}},
   "y": {"field": "y", "type": "quantitative", "scale": {"domain": [0, 1000], "nice": false}, "axis": {"title": "E", "tickCount": 100, "values": [0,100,200,300,400,500,600,700,800,900,1000], "labelExpr": "(datum.value == 0 || datum.value == 300 || datum.value == 600 || datum.value == 900) ? datum.label : ''", "labelOverlap": false}},
   "color": {"field": "s", "type": "nominal", "scale": {"domain": ["0 Drug","62.5 nM","125 nM","250 nM","500 nM","1 µM"], "range": ["#d9f1fa","#b4e4f6","#85d3f1","#22b0e6","#1a84a8","#0f536d"]}, "legend": {"orient": "none", "legendX": 37, "legendY": 3, "title": null, "symbolType": "M-5,0L5,0M-0.9,0A0.9,0.9,0,1,0,0.9,0A0.9,0.9,0,1,0,-0.9,0M-0.3,0A0.3,0.3,0,1,0,0.3,0A0.3,0.3,0,1,0,-0.3,0"}}
  }},
 {"mark": {"type": "point", "filled": true, "size": 125, "opacity": 1},
  "encoding": {"x": {"field": "x", "type": "quantitative"}, "y": {"field": "y", "type": "quantitative"}, "color": {"field": "s", "type": "nominal", "scale": {"domain": ["0 Drug","62.5 nM","125 nM","250 nM","500 nM","1 µM"], "range": ["#d9f1fa","#b4e4f6","#85d3f1","#22b0e6","#1a84a8","#0f536d"]}, "legend": null}}},
 {"data": {"values": [{"t": "Mutant K"}]}, "mark": {"type": "text", "fontSize": 20, "color": "#000000"}, "encoding": {"x": {"datum": 4.9}, "y": {"datum": 970}, "text": {"field": "t"}}}
]},
{"width": 307, "height": 266, "data": {"name": "F"}, "layer": [
 {"mark": {"type": "line", "interpolate": "cardinal", "strokeWidth": 3},
  "encoding": {
   "x": {"field": "x", "type": "quantitative", "scale": {"type": "log", "domain": [0.001, 200], "nice": false}, "axis": {"title": null, "tickCount": 100, "values": [0.001,0.002,0.003,0.004,0.005,0.006,0.007,0.008,0.009,0.01,0.02,0.03,0.04,0.05,0.06,0.07,0.08,0.09,0.1,0.2,0.3,0.4,0.5,0.6,0.7,0.8,0.9,1,2,3,4,5,6,7,8,9,10,20,30,40,50,60,70,80,90,100,200], "format": "~g", "labelOverlap": false, "labelFlush": false, "labelExpr": "abs(log(datum.value)/LN10 - round(log(datum.value)/LN10)) < 0.01 ? datum.label : ''", "tickSize": {"condition": {"test": "abs(log(datum.value)/LN10 - round(log(datum.value)/LN10)) < 0.01", "value": 7}, "value": 4}}},
   "y": {"field": "y", "type": "quantitative", "scale": {"domain": [0, 1000], "nice": false}, "axis": {"title": "F", "tickCount": 100, "values": [0,100,200,300,400,500,600,700,800,900,1000], "labelExpr": "(datum.value == 0 || datum.value == 300 || datum.value == 600 || datum.value == 900) ? datum.label : ''", "labelOverlap": false}},
   "color": {"field": "s", "type": "nominal", "scale": {"domain": ["0 Drug","62.5 nM","125 nM","250 nM","500 nM","1 µM"], "range": ["#e9f3e1","#cfe7bd","#acd68f","#7cbd52","#508c30","#2e5a1d"]}, "legend": {"orient": "none", "legendX": 216, "legendY": 132, "title": null, "symbolType": "M-5,0L5,0M-0.9,0A0.9,0.9,0,1,0,0.9,0A0.9,0.9,0,1,0,-0.9,0M-0.3,0A0.3,0.3,0,1,0,0.3,0A0.3,0.3,0,1,0,-0.3,0"}}
  }},
 {"mark": {"type": "point", "filled": true, "size": 125, "opacity": 1},
  "encoding": {"x": {"field": "x", "type": "quantitative"}, "y": {"field": "y", "type": "quantitative"}, "color": {"field": "s", "type": "nominal", "scale": {"domain": ["0 Drug","62.5 nM","125 nM","250 nM","500 nM","1 µM"], "range": ["#e9f3e1","#cfe7bd","#acd68f","#7cbd52","#508c30","#2e5a1d"]}, "legend": null}}},
 {"data": {"values": [{"t": "Mutant M"}]}, "mark": {"type": "text", "fontSize": 20, "color": "#000000"}, "encoding": {"x": {"datum": 0.37}, "y": {"datum": 975}, "text": {"field": "t"}}}
]},
{"width": 307, "height": 266, "data": {"name": "G"}, "layer": [
 {"mark": {"type": "line", "interpolate": "cardinal", "strokeWidth": 3},
  "encoding": {
   "x": {"field": "x", "type": "quantitative", "scale": {"type": "log", "domain": [0.01, 200], "nice": false}, "axis": {"title": null, "tickCount": 100, "values": [0.01,0.02,0.03,0.04,0.05,0.06,0.07,0.08,0.09,0.1,0.2,0.3,0.4,0.5,0.6,0.7,0.8,0.9,1,2,3,4,5,6,7,8,9,10,20,30,40,50,60,70,80,90,100,200], "format": "~g", "labelOverlap": false, "labelFlush": false, "labelExpr": "abs(log(datum.value)/LN10 - round(log(datum.value)/LN10)) < 0.01 ? datum.label : ''", "tickSize": {"condition": {"test": "abs(log(datum.value)/LN10 - round(log(datum.value)/LN10)) < 0.01", "value": 7}, "value": 4}}},
   "y": {"field": "y", "type": "quantitative", "scale": {"domain": [0, 1000], "nice": false}, "axis": {"title": "G", "tickCount": 100, "values": [0,100,200,300,400,500,600,700,800,900,1000], "labelExpr": "(datum.value == 0 || datum.value == 300 || datum.value == 600 || datum.value == 900) ? datum.label : ''", "labelOverlap": false}},
   "color": {"field": "s", "type": "nominal", "scale": {"domain": ["0 Drug","62.5 nM","125 nM","250 nM","500 nM","1 µM"], "range": ["#f0e4f6","#ddc3eb","#c8a2de","#8b48b6","#5d2b81","#2b1341"]}, "legend": {"orient": "none", "legendX": 32, "legendY": -2, "title": null, "symbolType": "M-5,0L5,0M-0.9,0A0.9,0.9,0,1,0,0.9,0A0.9,0.9,0,1,0,-0.9,0M-0.3,0A0.3,0.3,0,1,0,0.3,0A0.3,0.3,0,1,0,-0.3,0"}}
  }},
 {"mark": {"type": "point", "filled": true, "size": 125, "opacity": 1},
  "encoding": {"x": {"field": "x", "type": "quantitative"}, "y": {"field": "y", "type": "quantitative"}, "color": {"field": "s", "type": "nominal", "scale": {"domain": ["0 Drug","62.5 nM","125 nM","250 nM","500 nM","1 µM"], "range": ["#f0e4f6","#ddc3eb","#c8a2de","#8b48b6","#5d2b81","#2b1341"]}, "legend": null}}},
 {"data": {"values": [{"t": "Mutant N"}]}, "mark": {"type": "text", "fontSize": 20, "color": "#000000"}, "encoding": {"x": {"datum": 4.6}, "y": {"datum": 978}, "text": {"field": "t"}}}
]},
{"width": 307, "height": 266, "data": {"name": "H"}, "layer": [
 {"mark": {"type": "line", "interpolate": "cardinal", "strokeWidth": 3},
  "encoding": {
   "x": {"field": "x", "type": "quantitative", "scale": {"type": "log", "domain": [0.001, 200], "nice": false}, "axis": {"title": null, "tickCount": 100, "values": [0.001,0.002,0.003,0.004,0.005,0.006,0.007,0.008,0.009,0.01,0.02,0.03,0.04,0.05,0.06,0.07,0.08,0.09,0.1,0.2,0.3,0.4,0.5,0.6,0.7,0.8,0.9,1,2,3,4,5,6,7,8,9,10,20,30,40,50,60,70,80,90,100,200], "format": "~g", "labelOverlap": false, "labelFlush": false, "labelExpr": "abs(log(datum.value)/LN10 - round(log(datum.value)/LN10)) < 0.01 ? datum.label : ''", "tickSize": {"condition": {"test": "abs(log(datum.value)/LN10 - round(log(datum.value)/LN10)) < 0.01", "value": 7}, "value": 4}}},
   "y": {"field": "y", "type": "quantitative", "scale": {"domain": [0, 1000], "nice": false}, "axis": {"title": "H", "tickCount": 100, "values": [0,100,200,300,400,500,600,700,800,900,1000], "labelExpr": "(datum.value == 0 || datum.value == 300 || datum.value == 600 || datum.value == 900) ? datum.label : ''", "labelOverlap": false}},
   "color": {"field": "s", "type": "nominal", "scale": {"domain": ["0 Drug","62.5 nM","125 nM","250 nM","500 nM","1 µM"], "range": ["#fbe6d8","#f6cba9","#f19d5e","#c2621e","#8f4615","#4b240b"]}, "legend": {"orient": "none", "legendX": 177, "legendY": 127, "title": null, "symbolType": "M-5,0L5,0M-0.9,0A0.9,0.9,0,1,0,0.9,0A0.9,0.9,0,1,0,-0.9,0M-0.3,0A0.3,0.3,0,1,0,0.3,0A0.3,0.3,0,1,0,-0.3,0"}}
  }},
 {"mark": {"type": "point", "filled": true, "size": 125, "opacity": 1},
  "encoding": {"x": {"field": "x", "type": "quantitative"}, "y": {"field": "y", "type": "quantitative"}, "color": {"field": "s", "type": "nominal", "scale": {"domain": ["0 Drug","62.5 nM","125 nM","250 nM","500 nM","1 µM"], "range": ["#fbe6d8","#f6cba9","#f19d5e","#c2621e","#8f4615","#4b240b"]}, "legend": null}}},
 {"data": {"values": [{"t": "Mutant X"}]}, "mark": {"type": "text", "fontSize": 20, "color": "#000000"}, "encoding": {"x": {"datum": 0.42}, "y": {"datum": 962}, "text": {"field": "t"}}}
]},
{"width": 307, "height": 266, "layer": [
 {"data": {"name": "I2"}, "mark": {"type": "line", "interpolate": "cardinal", "strokeWidth": 3, "color": "#27478a"},
  "encoding": {"x": {"field": "x", "type": "quantitative"}, "y": {"field": "y", "type": "quantitative"}}},
 {"data": {"name": "I2"}, "mark": {"type": "point", "filled": true, "size": 125, "opacity": 1, "color": "#27478a"},
  "encoding": {"x": {"field": "x", "type": "quantitative"}, "y": {"field": "y", "type": "quantitative"}}},
 {"data": {"name": "I"}, "mark": {"type": "line", "interpolate": "cardinal", "strokeWidth": 3},
  "encoding": {
   "x": {"field": "x", "type": "quantitative", "scale": {"type": "log", "domain": [0.001, 200], "nice": false}, "axis": {"title": null, "tickCount": 100, "values": [0.001,0.002,0.003,0.004,0.005,0.006,0.007,0.008,0.009,0.01,0.02,0.03,0.04,0.05,0.06,0.07,0.08,0.09,0.1,0.2,0.3,0.4,0.5,0.6,0.7,0.8,0.9,1,2,3,4,5,6,7,8,9,10,20,30,40,50,60,70,80,90,100,200], "format": "~g", "labelOverlap": false, "labelFlush": false, "labelExpr": "abs(log(datum.value)/LN10 - round(log(datum.value)/LN10)) < 0.01 ? datum.label : ''", "tickSize": {"condition": {"test": "abs(log(datum.value)/LN10 - round(log(datum.value)/LN10)) < 0.01", "value": 7}, "value": 4}}},
   "y": {"field": "y", "type": "quantitative", "scale": {"domain": [0, 1000], "nice": false}, "axis": {"title": "I", "tickCount": 100, "values": [0,100,200,300,400,500,600,700,800,900,1000], "labelExpr": "(datum.value == 0 || datum.value == 300 || datum.value == 600 || datum.value == 900) ? datum.label : ''", "labelOverlap": false}},
   "color": {"field": "s", "type": "nominal", "scale": {"domain": ["0 Drug","6.25 nM","12.5 nM","25 nM","50 nM"], "range": ["#dfe8f6","#c3d4ee","#9dbbe6","#4474c8","#1f3a6e"]}, "legend": {"orient": "none", "legendX": 218, "legendY": 157, "title": null, "symbolType": "M-5,0L5,0M-0.9,0A0.9,0.9,0,1,0,0.9,0A0.9,0.9,0,1,0,-0.9,0M-0.3,0A0.3,0.3,0,1,0,0.3,0A0.3,0.3,0,1,0,-0.3,0"}}
  }},
 {"data": {"name": "I"}, "mark": {"type": "point", "filled": true, "size": 125, "opacity": 1},
  "encoding": {"x": {"field": "x", "type": "quantitative"}, "y": {"field": "y", "type": "quantitative"}, "color": {"field": "s", "type": "nominal", "scale": {"domain": ["0 Drug","6.25 nM","12.5 nM","25 nM","50 nM"], "range": ["#dfe8f6","#c3d4ee","#9dbbe6","#4474c8","#1f3a6e"]}, "legend": null}}},
 {"data": {"values": [{"t": "WT"}]}, "mark": {"type": "text", "fontSize": 20, "color": "#000000"}, "encoding": {"x": {"datum": 0.2}, "y": {"datum": 962}, "text": {"field": "t"}}}
]},
{"width": 307, "height": 266, "data": {"name": "J"}, "layer": [
 {"mark": {"type": "line", "interpolate": "cardinal", "strokeWidth": 3},
  "encoding": {
   "x": {"field": "x", "type": "quantitative", "scale": {"type": "log", "domain": [0.001, 200], "nice": false}, "axis": {"title": null, "tickCount": 100, "values": [0.001,0.002,0.003,0.004,0.005,0.006,0.007,0.008,0.009,0.01,0.02,0.03,0.04,0.05,0.06,0.07,0.08,0.09,0.1,0.2,0.3,0.4,0.5,0.6,0.7,0.8,0.9,1,2,3,4,5,6,7,8,9,10,20,30,40,50,60,70,80,90,100,200], "format": "~g", "labelOverlap": false, "labelFlush": false, "labelExpr": "abs(log(datum.value)/LN10 - round(log(datum.value)/LN10)) < 0.01 ? datum.label : ''", "tickSize": {"condition": {"test": "abs(log(datum.value)/LN10 - round(log(datum.value)/LN10)) < 0.01", "value": 7}, "value": 4}}},
   "y": {"field": "y", "type": "quantitative", "scale": {"domain": [0, 1000], "nice": false}, "axis": {"title": "J", "tickCount": 100, "values": [0,100,200,300,400,500,600,700,800,900,1000], "labelExpr": "(datum.value == 0 || datum.value == 300 || datum.value == 600 || datum.value == 900) ? datum.label : ''", "labelOverlap": false}},
   "color": {"field": "s", "type": "nominal", "scale": {"domain": ["0 Drug","62.5 nM","125 nM","250 nM","500 nM","1 µM"], "range": ["#fadcf4","#f6b8ec","#ff2ee0","#e61ccb","#b3169f","#6d0c62"]}, "legend": {"orient": "none", "legendX": 49, "legendY": 40, "title": null, "symbolType": "M-5,0L5,0M-0.9,0A0.9,0.9,0,1,0,0.9,0A0.9,0.9,0,1,0,-0.9,0M-0.3,0A0.3,0.3,0,1,0,0.3,0A0.3,0.3,0,1,0,-0.3,0"}}
  }},
 {"mark": {"type": "point", "filled": true, "size": 125, "opacity": 1},
  "encoding": {"x": {"field": "x", "type": "quantitative"}, "y": {"field": "y", "type": "quantitative"}, "color": {"field": "s", "type": "nominal", "scale": {"domain": ["0 Drug","62.5 nM","125 nM","250 nM","500 nM","1 µM"], "range": ["#fadcf4","#f6b8ec","#ff2ee0","#e61ccb","#b3169f","#6d0c62"]}, "legend": null}}},
 {"data": {"values": [{"t": "Mutant A"}]}, "mark": {"type": "text", "fontSize": 20, "color": "#000000"}, "encoding": {"x": {"datum": 0.42}, "y": {"datum": 966}, "text": {"field": "t"}}}
]},
{"width": 307, "height": 266, "data": {"name": "K"}, "layer": [
 {"mark": {"type": "line", "interpolate": "cardinal", "strokeWidth": 3},
  "encoding": {
   "x": {"field": "x", "type": "quantitative", "scale": {"type": "log", "domain": [0.001, 200], "nice": false}, "axis": {"title": null, "tickCount": 100, "values": [0.001,0.002,0.003,0.004,0.005,0.006,0.007,0.008,0.009,0.01,0.02,0.03,0.04,0.05,0.06,0.07,0.08,0.09,0.1,0.2,0.3,0.4,0.5,0.6,0.7,0.8,0.9,1,2,3,4,5,6,7,8,9,10,20,30,40,50,60,70,80,90,100,200], "format": "~g", "labelOverlap": false, "labelFlush": false, "labelExpr": "abs(log(datum.value)/LN10 - round(log(datum.value)/LN10)) < 0.01 ? datum.label : ''", "tickSize": {"condition": {"test": "abs(log(datum.value)/LN10 - round(log(datum.value)/LN10)) < 0.01", "value": 7}, "value": 4}}},
   "y": {"field": "y", "type": "quantitative", "scale": {"domain": [0, 1000], "nice": false}, "axis": {"title": "K", "tickCount": 100, "values": [0,100,200,300,400,500,600,700,800,900,1000], "labelExpr": "(datum.value == 0 || datum.value == 300 || datum.value == 600 || datum.value == 900) ? datum.label : ''", "labelOverlap": false}},
   "color": {"field": "s", "type": "nominal", "scale": {"domain": ["0 Drug","62.5 nM","125 nM","250 nM","500 nM","1 µM"], "range": ["#fbd5d5","#f69c9c","#ff1a1a","#d91414","#a00b0b","#6b0606"]}, "legend": {"orient": "none", "legendX": 32, "legendY": -5, "title": null, "symbolType": "M-5,0L5,0M-0.9,0A0.9,0.9,0,1,0,0.9,0A0.9,0.9,0,1,0,-0.9,0M-0.3,0A0.3,0.3,0,1,0,0.3,0A0.3,0.3,0,1,0,-0.3,0"}}
  }},
 {"mark": {"type": "point", "filled": true, "size": 125, "opacity": 1},
  "encoding": {"x": {"field": "x", "type": "quantitative"}, "y": {"field": "y", "type": "quantitative"}, "color": {"field": "s", "type": "nominal", "scale": {"domain": ["0 Drug","62.5 nM","125 nM","250 nM","500 nM","1 µM"], "range": ["#fbd5d5","#f69c9c","#ff1a1a","#d91414","#a00b0b","#6b0606"]}, "legend": null}}},
 {"data": {"values": [{"t": "Mutant C"}]}, "mark": {"type": "text", "fontSize": 20, "color": "#000000"}, "encoding": {"x": {"datum": 1.7}, "y": {"datum": 977}, "text": {"field": "t"}}}
]},
{"width": 307, "height": 266, "data": {"name": "L"}, "layer": [
 {"mark": {"type": "line", "interpolate": "cardinal", "strokeWidth": 3},
  "encoding": {
   "x": {"field": "x", "type": "quantitative", "scale": {"type": "log", "domain": [0.001, 200], "nice": false}, "axis": {"title": null, "tickCount": 100, "values": [0.001,0.002,0.003,0.004,0.005,0.006,0.007,0.008,0.009,0.01,0.02,0.03,0.04,0.05,0.06,0.07,0.08,0.09,0.1,0.2,0.3,0.4,0.5,0.6,0.7,0.8,0.9,1,2,3,4,5,6,7,8,9,10,20,30,40,50,60,70,80,90,100,200], "format": "~g", "labelOverlap": false, "labelFlush": false, "labelExpr": "abs(log(datum.value)/LN10 - round(log(datum.value)/LN10)) < 0.01 ? datum.label : ''", "tickSize": {"condition": {"test": "abs(log(datum.value)/LN10 - round(log(datum.value)/LN10)) < 0.01", "value": 7}, "value": 4}}},
   "y": {"field": "y", "type": "quantitative", "scale": {"domain": [0, 1000], "nice": false}, "axis": {"title": "L", "tickCount": 100, "values": [0,100,200,300,400,500,600,700,800,900,1000], "labelExpr": "(datum.value == 0 || datum.value == 300 || datum.value == 600 || datum.value == 900) ? datum.label : ''", "labelOverlap": false}},
   "color": {"field": "s", "type": "nominal", "scale": {"domain": ["0 Drug","62.5 nM","125 nM","250 nM","500 nM","1 µM"], "range": ["#eeeeee","#d9d9d9","#bfbfbf","#8c8c8c","#4d4d4d","#141414"]}, "legend": {"orient": "none", "legendX": 198, "legendY": 136, "title": null, "symbolType": "M-5,0L5,0M-0.9,0A0.9,0.9,0,1,0,0.9,0A0.9,0.9,0,1,0,-0.9,0M-0.3,0A0.3,0.3,0,1,0,0.3,0A0.3,0.3,0,1,0,-0.3,0"}}
  }},
 {"mark": {"type": "point", "filled": true, "size": 125, "opacity": 1},
  "encoding": {"x": {"field": "x", "type": "quantitative"}, "y": {"field": "y", "type": "quantitative"}, "color": {"field": "s", "type": "nominal", "scale": {"domain": ["0 Drug","62.5 nM","125 nM","250 nM","500 nM","1 µM"], "range": ["#eeeeee","#d9d9d9","#bfbfbf","#8c8c8c","#4d4d4d","#141414"]}, "legend": null}}},
 {"data": {"values": [{"t": "Mutant J"}]}, "mark": {"type": "text", "fontSize": 20, "color": "#000000"}, "encoding": {"x": {"datum": 0.36}, "y": {"datum": 966}, "text": {"field": "t"}}}
]}
]
},
{
"spacing": 16,
"resolve": {"scale": {"x": "independent", "y": "independent", "color": "independent"}},
"hconcat": [
{"width": 307, "height": 277, "data": {"name": "M"}, "layer": [
 {"mark": {"type": "line", "interpolate": "cardinal", "strokeWidth": 3},
  "encoding": {
   "x": {"field": "x", "type": "quantitative", "scale": {"type": "log", "domain": [0.001, 200], "nice": false}, "axis": {"title": null, "tickCount": 100, "values": [0.001,0.002,0.003,0.004,0.005,0.006,0.007,0.008,0.009,0.01,0.02,0.03,0.04,0.05,0.06,0.07,0.08,0.09,0.1,0.2,0.3,0.4,0.5,0.6,0.7,0.8,0.9,1,2,3,4,5,6,7,8,9,10,20,30,40,50,60,70,80,90,100,200], "format": "~g", "labelOverlap": false, "labelFlush": false, "labelExpr": "abs(log(datum.value)/LN10 - round(log(datum.value)/LN10)) < 0.01 ? datum.label : ''", "tickSize": {"condition": {"test": "abs(log(datum.value)/LN10 - round(log(datum.value)/LN10)) < 0.01", "value": 7}, "value": 4}}},
   "y": {"field": "y", "type": "quantitative", "scale": {"domain": [0, 1000], "nice": false}, "axis": {"title": "M", "titleY": -8, "tickCount": 100, "values": [0,100,200,300,400,500,600,700,800,900,1000], "labelExpr": "(datum.value == 0 || datum.value == 300 || datum.value == 600 || datum.value == 900) ? datum.label : ''", "labelOverlap": false}},
   "color": {"field": "s", "type": "nominal", "scale": {"domain": ["0 Drug","62.5 nM","125 nM","250 nM","500 nM","1 µM"], "range": ["#fcf7cc","#f8f08c","#f6ea00","#ddd000","#bfb100","#8b7f12"]}, "legend": {"orient": "none", "legendX": 208, "legendY": 131, "title": null, "symbolType": "M-5,0L5,0M-0.9,0A0.9,0.9,0,1,0,0.9,0A0.9,0.9,0,1,0,-0.9,0M-0.3,0A0.3,0.3,0,1,0,0.3,0A0.3,0.3,0,1,0,-0.3,0"}}
  }},
 {"mark": {"type": "point", "filled": true, "size": 125, "opacity": 1},
  "encoding": {"x": {"field": "x", "type": "quantitative"}, "y": {"field": "y", "type": "quantitative"}, "color": {"field": "s", "type": "nominal", "scale": {"domain": ["0 Drug","62.5 nM","125 nM","250 nM","500 nM","1 µM"], "range": ["#fcf7cc","#f8f08c","#f6ea00","#ddd000","#bfb100","#8b7f12"]}, "legend": null}}},
 {"data": {"values": [{"t": "Mutant L"}]}, "mark": {"type": "text", "fontSize": 20, "color": "#000000"}, "encoding": {"x": {"datum": 0.35}, "y": {"datum": 988}, "text": {"field": "t"}}}
]},
{
"spacing": 23,
"resolve": {"scale": {"x": "independent", "y": "independent", "color": "independent"}},
"hconcat": [
{"width": 307, "height": 277, "data": {"name": "N"}, "layer": [
 {"mark": {"type": "line", "interpolate": "cardinal", "strokeWidth": 3},
  "encoding": {
   "x": {"field": "x", "type": "quantitative", "scale": {"type": "log", "domain": [0.001, 200], "nice": false}, "axis": {"title": null, "tickCount": 100, "values": [0.001,0.002,0.003,0.004,0.005,0.006,0.007,0.008,0.009,0.01,0.02,0.03,0.04,0.05,0.06,0.07,0.08,0.09,0.1,0.2,0.3,0.4,0.5,0.6,0.7,0.8,0.9,1,2,3,4,5,6,7,8,9,10,20,30,40,50,60,70,80,90,100,200], "format": "~g", "labelOverlap": false, "labelFlush": false, "labelExpr": "abs(log(datum.value)/LN10 - round(log(datum.value)/LN10)) < 0.01 ? datum.label : ''", "tickSize": {"condition": {"test": "abs(log(datum.value)/LN10 - round(log(datum.value)/LN10)) < 0.01", "value": 7}, "value": 4}}},
   "y": {"field": "y", "type": "quantitative", "scale": {"domain": [0, 1000], "nice": false}, "axis": {"title": "N", "titleY": -8, "titleX": -37, "tickCount": 100, "values": [0,100,200,300,400,500,600,700,800,900,1000], "labelExpr": "(datum.value == 0 || datum.value == 300 || datum.value == 600 || datum.value == 900) ? datum.label : ''", "labelOverlap": false}},
   "color": {"field": "s", "type": "nominal", "scale": {"domain": ["0 Drug","62.5 nM","125 nM","250 nM","500 nM","1 µM"], "range": ["#e4f9e0","#aaf09c","#40e62c","#22cc22","#15a515","#0b6b0b"]}, "legend": {"orient": "none", "legendX": 186, "legendY": 106, "title": null, "symbolType": "M-5,0L5,0M-0.9,0A0.9,0.9,0,1,0,0.9,0A0.9,0.9,0,1,0,-0.9,0M-0.3,0A0.3,0.3,0,1,0,0.3,0A0.3,0.3,0,1,0,-0.3,0"}}
  }},
 {"mark": {"type": "point", "filled": true, "size": 125, "opacity": 1},
  "encoding": {"x": {"field": "x", "type": "quantitative"}, "y": {"field": "y", "type": "quantitative"}, "color": {"field": "s", "type": "nominal", "scale": {"domain": ["0 Drug","62.5 nM","125 nM","250 nM","500 nM","1 µM"], "range": ["#e4f9e0","#aaf09c","#40e62c","#22cc22","#15a515","#0b6b0b"]}, "legend": null}}},
 {"data": {"values": [{"t": "Mutant O"}]}, "mark": {"type": "text", "fontSize": 20, "color": "#000000"}, "encoding": {"x": {"datum": 0.068}, "y": {"datum": 988}, "text": {"field": "t"}}}
]},
{"width": 307, "height": 277, "data": {"name": "O"}, "layer": [
 {"mark": {"type": "line", "interpolate": "cardinal", "strokeWidth": 3},
  "encoding": {
   "x": {"field": "x", "type": "quantitative", "scale": {"type": "log", "domain": [0.001, 200], "nice": false}, "axis": {"title": null, "tickCount": 100, "values": [0.001,0.002,0.003,0.004,0.005,0.006,0.007,0.008,0.009,0.01,0.02,0.03,0.04,0.05,0.06,0.07,0.08,0.09,0.1,0.2,0.3,0.4,0.5,0.6,0.7,0.8,0.9,1,2,3,4,5,6,7,8,9,10,20,30,40,50,60,70,80,90,100,200], "format": "~g", "labelOverlap": false, "labelFlush": false, "labelExpr": "abs(log(datum.value)/LN10 - round(log(datum.value)/LN10)) < 0.01 ? datum.label : ''", "tickSize": {"condition": {"test": "abs(log(datum.value)/LN10 - round(log(datum.value)/LN10)) < 0.01", "value": 7}, "value": 4}}},
   "y": {"field": "y", "type": "quantitative", "scale": {"domain": [0, 1000], "nice": false}, "axis": {"title": "O", "titleY": -8, "titleX": -37, "tickCount": 100, "values": [0,100,200,300,400,500,600,700,800,900,1000], "labelExpr": "(datum.value == 0 || datum.value == 300 || datum.value == 600 || datum.value == 900) ? datum.label : ''", "labelOverlap": false}},
   "color": {"field": "s", "type": "nominal", "scale": {"domain": ["0 Drug","62.5 nM","125 nM","250 nM","500 nM","1 µM"], "range": ["#dcfbfb","#a2f5f5","#1fe3e3","#19cccc","#12a7a7","#0b6f6f"]}, "legend": {"orient": "none", "legendX": 201, "legendY": 118, "title": null, "symbolType": "M-5,0L5,0M-0.9,0A0.9,0.9,0,1,0,0.9,0A0.9,0.9,0,1,0,-0.9,0M-0.3,0A0.3,0.3,0,1,0,0.3,0A0.3,0.3,0,1,0,-0.3,0"}}
  }},
 {"mark": {"type": "point", "filled": true, "size": 125, "opacity": 1},
  "encoding": {"x": {"field": "x", "type": "quantitative"}, "y": {"field": "y", "type": "quantitative"}, "color": {"field": "s", "type": "nominal", "scale": {"domain": ["0 Drug","62.5 nM","125 nM","250 nM","500 nM","1 µM"], "range": ["#dcfbfb","#a2f5f5","#1fe3e3","#19cccc","#12a7a7","#0b6f6f"]}, "legend": null}}},
 {"data": {"values": [{"t": "Mutant P"}]}, "mark": {"type": "text", "fontSize": 20, "color": "#000000"}, "encoding": {"x": {"datum": 0.21}, "y": {"datum": 988}, "text": {"field": "t"}}}
]}
]
}
]
}
]
}
]
}
